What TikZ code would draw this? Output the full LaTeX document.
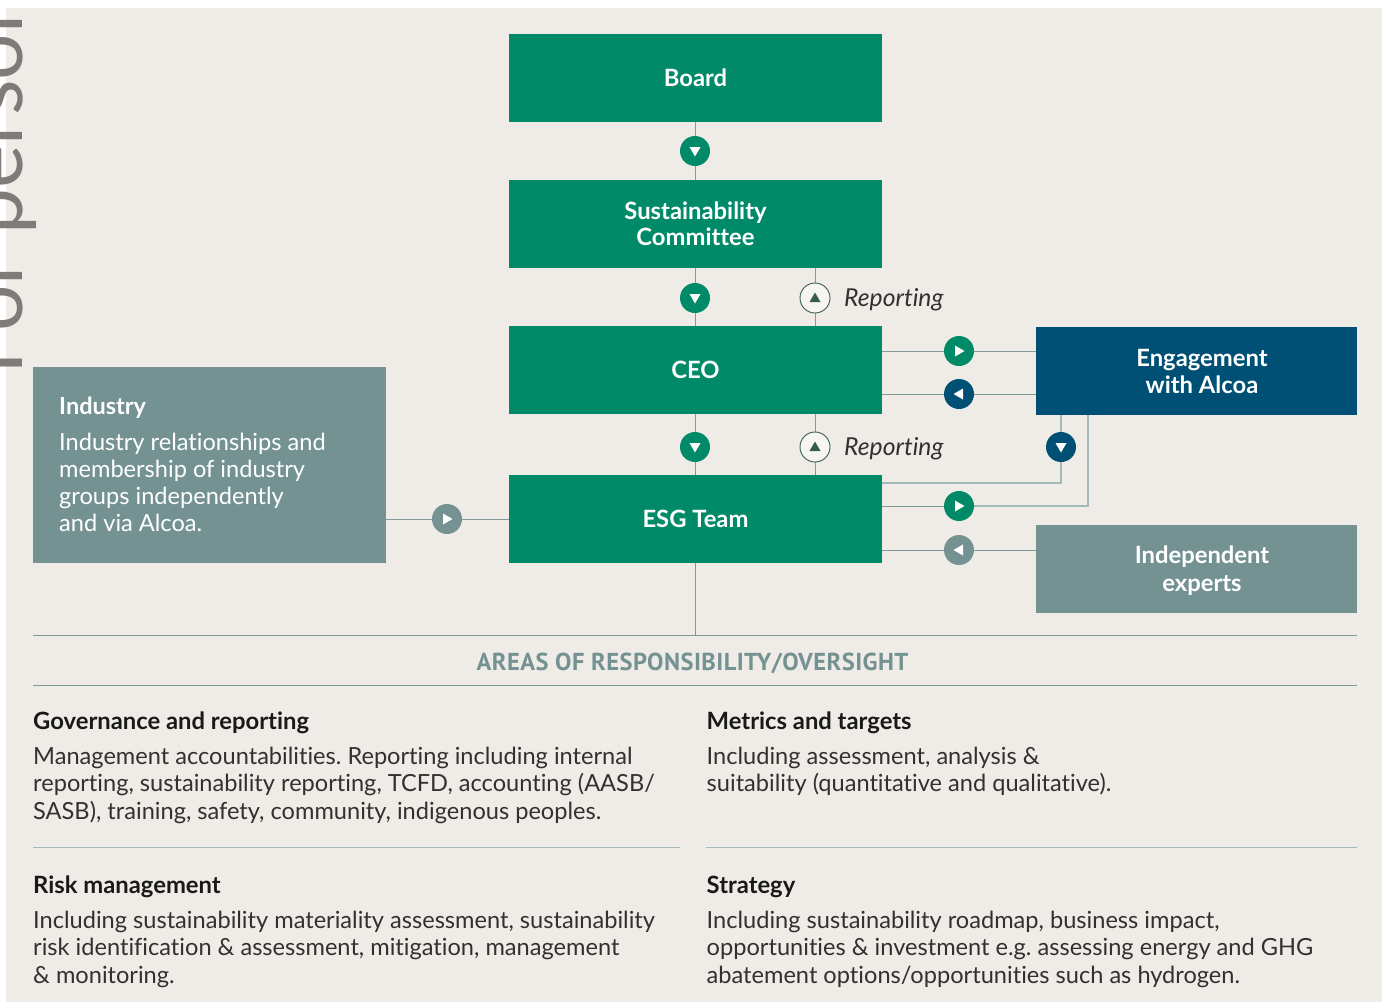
\documentclass[tikz,border=0pt]{standalone}
\usepackage{fontspec}
\setmainfont[Ligatures=NoCommon]{Lato}
\newfontfamily\capsfont[LetterSpace=1.8]{PT Sans Bold}
\usetikzlibrary{backgrounds}
\definecolor{panel}{HTML}{EFECE7}
\definecolor{esggreen}{HTML}{008A68}
\definecolor{navy}{HTML}{005075}
\definecolor{slate}{HTML}{759293}
\definecolor{linecol}{HTML}{7E9C9C}
\definecolor{linelight}{HTML}{A3B8B8}
\definecolor{darkgreen}{HTML}{365C4C}
\definecolor{inktext}{HTML}{33312F}
\definecolor{ghost}{HTML}{7D7C7A}
\newcommand{\nudge}[2]{\raisebox{#1}[\height][\depth]{#2}}
\tikzset{
 x=1pt,y=-1pt,
 box/.style={draw=none,inner sep=0pt,outer sep=0pt,anchor=north west,text=white,align=center,font=\fontsize{23.8}{27}\selectfont\bfseries},
 badge/.style={circle,minimum size=30pt,inner sep=0pt,outer sep=0pt,fill=#1},
 repbadge/.style={circle,minimum size=30pt,inner sep=0pt,outer sep=0pt,fill=white!50!panel,draw=darkgreen,line width=0.9pt},
 link/.style={draw=linecol,line width=1pt},
 linklight/.style={draw=linelight,line width=1.4pt},
 rule/.style={draw=#1,line width=1pt},
 head/.style={anchor=base west,inner sep=0pt,text=black!90,font=\fontsize{23.8}{27}\selectfont\bfseries},
 body/.style={anchor=base west,inner sep=0pt,align=left,text=inktext,font=\fontsize{23.6}{27.3}\selectfont},
 tri/.style={fill=#1,draw=none},
}
\newcommand{\trimark}[3]{\fill[tri=#2,shift={(#1)},rotate=#3] (-4,-5.5) -- (5.5,0) -- (-4,5.5) -- cycle;}
\begin{document}
\begin{tikzpicture}
\frenchspacing
\useasboundingbox (0,0) rectangle (1382,1002);
% boxes
\node[box,fill=esggreen,minimum width=373pt,minimum height=88pt] (board) at (509,34) {Board};
\node[box,fill=esggreen,minimum width=373pt,minimum height=88pt] (sc) at (509,180) {\nudge{-0.3pt}{Sustainability}\\\nudge{0.3pt}{Committee}};
\node[box,fill=esggreen,minimum width=373pt,minimum height=88pt] (ceo) at (509,326) {CEO};
\node[box,fill=esggreen,minimum width=373pt,minimum height=88pt] (esg) at (509,475) {ESG Team};
\node[box,fill=navy,minimum width=321pt,minimum height=88pt] (eng) at (1036,327) {\hspace*{11pt}Engagement\\\hspace*{11pt}with Alcoa};
\node[box,fill=slate,minimum width=321pt,minimum height=88pt] (ind) at (1036,525) {\hspace*{11pt}\nudge{-2pt}{Independent}\\[1pt]\hspace*{11pt}\nudge{-2pt}{experts}};
\node[box,fill=slate,minimum width=353pt,minimum height=196pt] (industry) at (33,367) {};
\node[anchor=base west,inner sep=0pt,text=white,font=\fontsize{23.5}{27}\selectfont\bfseries] (industryhead) at (59,414) {Industry};
\node[anchor=north west,inner sep=0pt,align=left,text=white,font=\fontsize{23.6}{27.3}\selectfont] (industrytext) at (59,432.5) {Industry relationships and\\membership of industry\\groups independently\\and via Alcoa.};
% badges
\node[badge=esggreen] (b1) at (695,151) {};
\node[badge=esggreen] (b2) at (695,298) {};
\node[badge=esggreen] (b3) at (695,447) {};
\node[repbadge] (r1) at (815,298) {};
\node[repbadge] (r2) at (815,447) {};
\node[badge=esggreen] (e1) at (959,351) {};
\node[badge=navy] (e2) at (959,394) {};
\node[badge=navy] (e3) at (1061,447) {};
\node[badge=esggreen] (e4) at (959,506) {};
\node[badge=slate] (e5) at (959,550) {};
\node[badge=slate] (i1) at (447,519) {};
\trimark{b1}{white}{-90}\trimark{b2}{white}{-90}\trimark{b3}{white}{-90}
\trimark{r1}{darkgreen}{90}\trimark{r2}{darkgreen}{90}
\trimark{e1}{white}{0}\trimark{e2}{white}{180}\trimark{e3}{white}{-90}
\trimark{e4}{white}{0}\trimark{e5}{white}{180}\trimark{i1}{white}{0}
% labels
\node[anchor=base west,inner sep=0pt,text=inktext,font=\fontsize{24.7}{27}\selectfont\itshape] (rl1) at (844,306) {Reporting};
\node[anchor=base west,inner sep=0pt,text=inktext,font=\fontsize{24.7}{27}\selectfont\itshape] (rl2) at (844,455) {Reporting};
% rules
\coordinate (ruleL) at (33,635); \coordinate (ruleR) at (1357,635);
\coordinate (rule2L) at (33,685); \coordinate (rule2R) at (1357,685);
\draw[rule=linecol] (ruleL) -- (ruleR);
\draw[rule=linecol] (rule2L) -- (rule2R);
\coordinate (r3a) at (33,847); \coordinate (r3b) at (680,847);
\coordinate (r3c) at (706,847); \coordinate (r3d) at (1357,847);
\draw[rule=linelight] (r3a) -- (r3b);
\draw[rule=linelight] (r3c) -- (r3d);
\node[inner sep=0pt,text=slate,font=\fontsize{24.5}{27}\selectfont\capsfont] (areas) at (692.5,663) {AREAS OF RESPONSIBILITY/OVERSIGHT};
% text blocks
\node[head] (h1) at (33,729) {Governance and reporting};
\node[body,anchor=north west] (t1) at (33,747) {Management accountabilities. Reporting including internal\\reporting, sustainability reporting, TCFD, accounting (AASB/\\SASB), training, safety, community, indigenous peoples.};
\node[head] (h2) at (706.5,729) {Metrics and targets};
\node[body,anchor=north west] (t2) at (706.5,747) {Including assessment, analysis \&\\suitability (quantitative and qualitative).};
\node[head] (h3) at (33,893) {Risk management};
\node[body,anchor=north west] (t3) at (33,911) {Including sustainability materiality assessment, sustainability\\risk identification \& assessment, mitigation, management\\\& monitoring.};
\node[head] (h4) at (706.5,893) {Strategy};
\node[body,anchor=north west] (t4) at (706.5,911) {Including sustainability roadmap, business impact,\\opportunities \& investment e.g. assessing energy and GHG\\abatement options/opportunities such as hydrogen.};
% connectors behind
\begin{scope}[on background layer]
\fill[panel] (6,8) rectangle (1382,1002);
\begin{scope}
\clip (0,0) rectangle (1382,1002);
\node[rotate=90,anchor=base west,inner sep=0pt,text=ghost,font=\fontsize{82}{82}\selectfont] (ghosttext) at (22,375) {For persor};
\end{scope}
\draw[link] (board.south) -- (sc.north);
\draw[link] (sc.south) -- (ceo.north);
\draw[link] (ceo.south) -- (esg.north);
\draw[link] (sc.south -| r1) -- (ceo.north -| r1);
\draw[link] (ceo.south -| r2) -- (esg.north -| r2);
\draw[link] (ceo.east |- e1) -- (eng.west |- e1);
\draw[link] (ceo.east |- e2) -- (eng.west |- e2);
\coordinate (j1) at (1061,483);
\coordinate (j2) at (1088,506);
\draw[linklight] (eng.south -| j1) -- (j1) -- (esg.east |- j1);
\draw[linklight] (eng.south -| j2) -- (j2) -- (e4);
\draw[link] (esg.east |- e4) -- (e4);
\draw[link] (esg.east |- e5) -- (ind.west |- e5);
\draw[link] (industry.east |- i1) -- (esg.west |- i1);
\draw[link] (esg.south) -- (esg.south |- ruleL);
\end{scope}
\end{tikzpicture}
\end{document}
